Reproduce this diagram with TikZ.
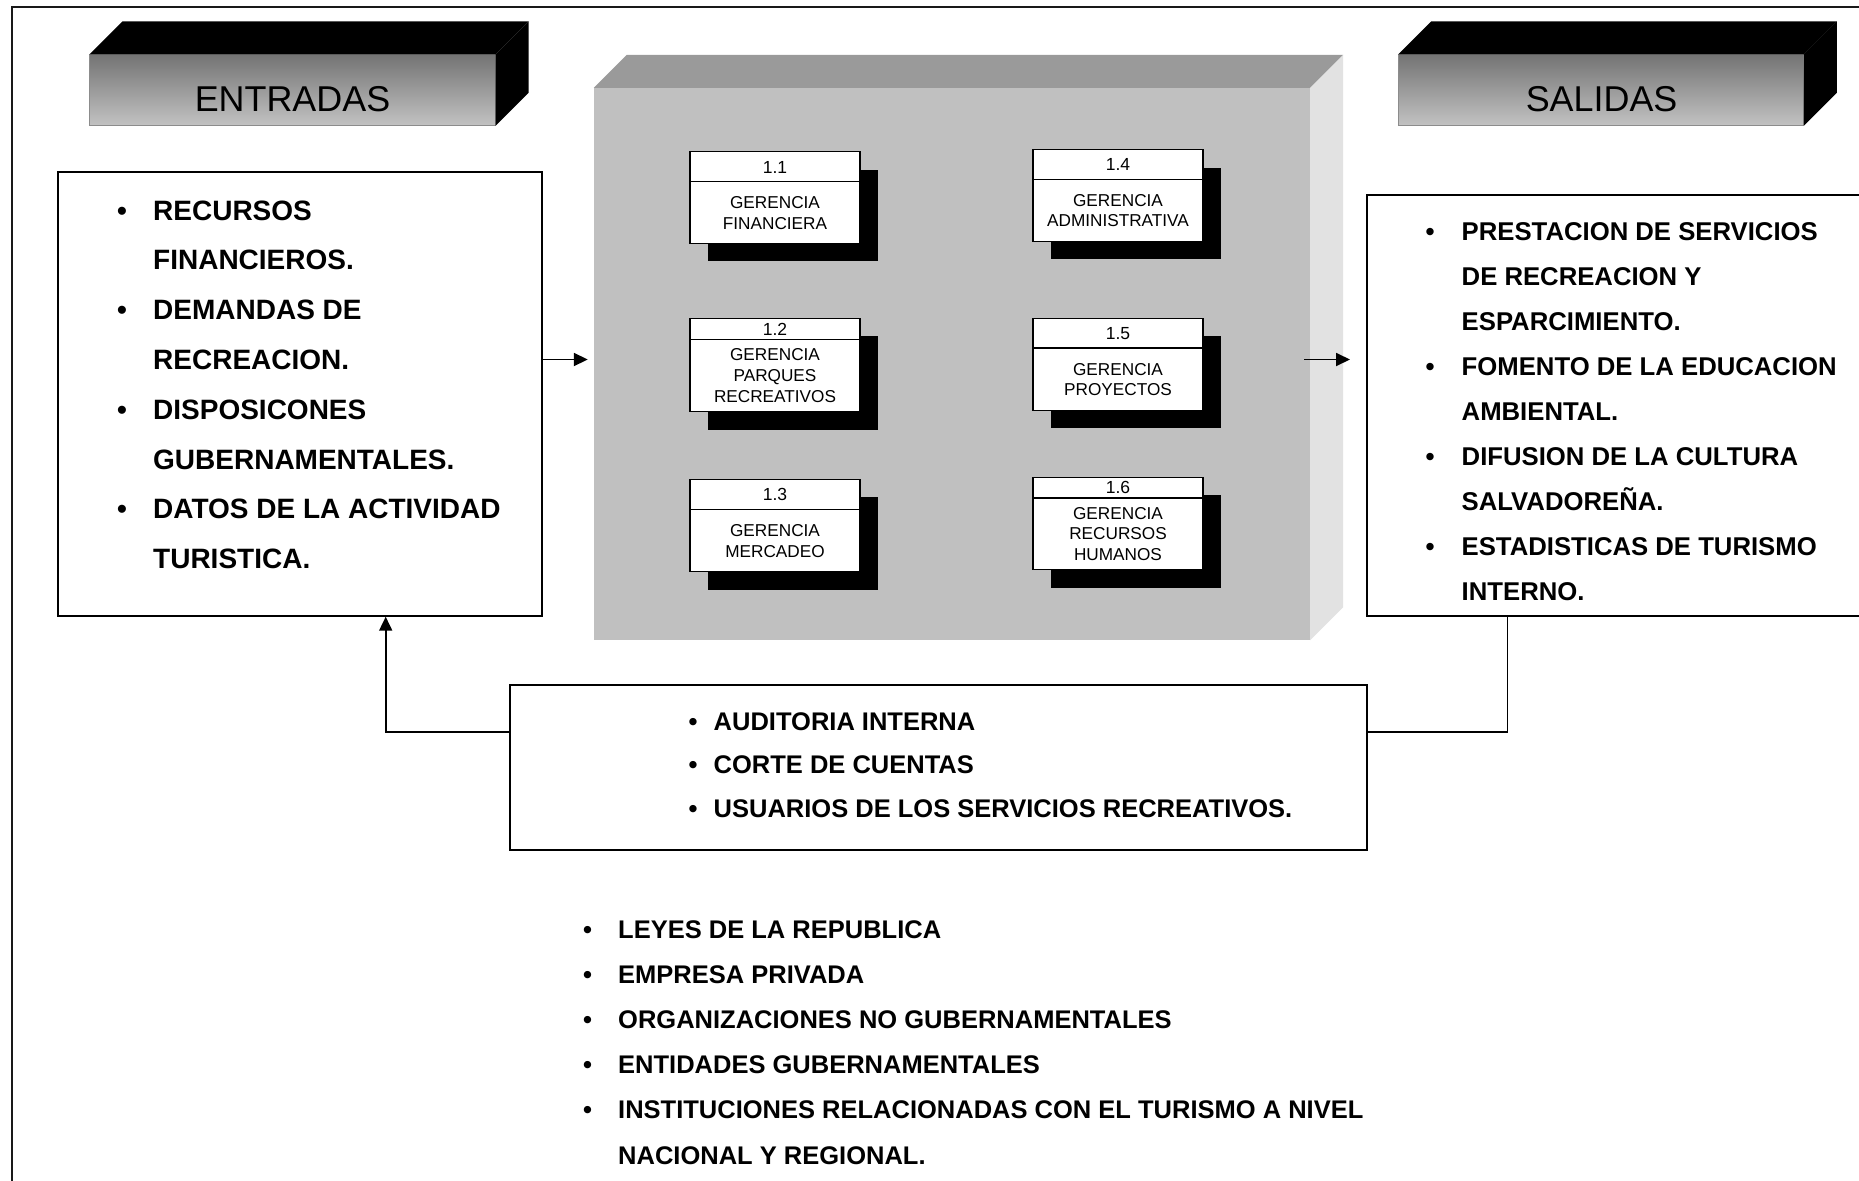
\documentclass[tikz,border=0pt]{standalone}
\usepackage{fontspec}
\setmainfont{Liberation Sans}
\usetikzlibrary{arrows.meta,calc,shadows}

\definecolor{headtop}{HTML}{747474}
\definecolor{headbot}{HTML}{C2C2C2}
\definecolor{headedge}{HTML}{8C8C8C}
\definecolor{procfront}{HTML}{C0C0C0}
\definecolor{proctop}{HTML}{9A9A9A}
\definecolor{procside}{HTML}{E2E2E2}

% bullet lists: one paragraph per printed line
\newlength\blgap
\newcommand\blitem[1]{\makebox[\blgap][l]{•}#1\par}
\newcommand\blcont[1]{\hspace*{\blgap}#1\par}
\newcommand\bulletblock[4]{\vtop{\hsize=1000pt\parindent=0pt\parskip=0pt\setlength\blgap{#1}\fontsize{#2}{#3}\selectfont\bfseries#4}}

\begin{document}
\begin{tikzpicture}[x=1pt,y=-1pt,
  frame/.style={line width=2pt, draw=black!90},
  headface/.style={draw=headedge, line width=1pt, top color=headtop, bottom color=headbot, inner sep=0},
  headtext/.style={font=\fontsize{35.9}{43}\selectfont, anchor=base, inner sep=0},
  listbox/.style={draw, line width=2pt, fill=white, inner sep=0},
  gbox/.style={draw, line width=1.2pt, fill=white, inner sep=0, minimum width=170pt,
    drop shadow={shadow xshift=18pt, shadow yshift=-18pt, opacity=1, fill=black}},
  gnum/.style={font=\fontsize{17.5}{21}\selectfont, inner sep=0},
  gtxt/.style={font=\fontsize{17.2}{20.6}\selectfont, align=center, inner sep=0},
  listtext/.style={anchor=base west, inner sep=0},
  flow/.style={line width=1.8pt, -{Triangle[length=14pt,width=13pt]}},
  link/.style={line width=1.8pt}]

\useasboundingbox (0,0) rectangle (1859,1180);
\clip (0,0) rectangle (1859,1180);
\fill[white] (0,0) rectangle (1859,1180);

% page frame (top and left rules)
\draw[frame] (11.9,1190) -- (11.9,7.5) -- (1870,7.5);

% ---- ENTRADAS header block
\node[headface, minimum width=405.2pt, minimum height=70.3pt] (inhead) at (292.4,90.15) {};
\fill[black] (inhead.north west) -- ++(33,-33) -- ($(inhead.north east)+(33,-33)$) -- (inhead.north east) -- cycle;
\fill[black] (inhead.north east) -- ++(33,-33) -- ($(inhead.south east)+(33,-33)$) -- (inhead.south east) -- cycle;
\node[headtext] (inheadtxt) at (292.5,111.7) {ENTRADAS};

% ---- SALIDAS header block
\node[headface, minimum width=404.8pt, minimum height=70.3pt] (outhead) at (1600.9,90.15) {};
\fill[black] (outhead.north west) -- ++(33,-33) -- ($(outhead.north east)+(33,-33)$) -- (outhead.north east) -- cycle;
\fill[black] (outhead.north east) -- ++(33,-33) -- ($(outhead.south east)+(33,-33)$) -- (outhead.south east) -- cycle;
\node[headtext] (outheadtxt) at (1601.6,111.7) {SALIDAS};

% ---- central process block
\node[fill=procfront, inner sep=0, minimum width=716pt, minimum height=552pt] (procbox) at (952,364) {};
\fill[proctop] (procbox.north west) -- ++(33,-33) -- ($(procbox.north east)+(33,-33)$) -- (procbox.north east) -- cycle;
\fill[procside] (procbox.north east) -- ++(33,-33) -- ($(procbox.south east)+(33,-33)$) -- (procbox.south east) -- cycle;

% management units
\node[gbox, minimum height=91.6pt] (g11) at (775,197.5) {};
\draw[line width=1.2pt] ($(g11.north west)+(0,30.6)$) -- ($(g11.north east)+(0,30.6)$);
\node[gnum] (g11n) at (775,167) {1.1};
\node[gtxt] (g11t) at (775,212.8) {GERENCIA\\FINANCIERA};

\node[gbox, minimum height=93.1pt] (g12) at (775,364.95) {};
\draw[line width=1.2pt] ($(g12.north west)+(0,21.4)$) -- ($(g12.north east)+(0,21.4)$);
\node[gnum] (g12n) at (775,329.1) {1.2};
\node[gtxt] (g12t) at (775,375.65) {GERENCIA\\PARQUES\\RECREATIVOS};

\node[gbox, minimum height=92.3pt] (g13) at (775,525.35) {};
\draw[line width=1.2pt] ($(g13.north west)+(0,30.9)$) -- ($(g13.north east)+(0,30.9)$);
\node[gnum] (g13n) at (775,494.65) {1.3};
\node[gtxt] (g13t) at (775,540.8) {GERENCIA\\MERCADEO};

\node[gbox, minimum height=91.5pt] (g14) at (1118,195.45) {};
\draw[line width=1.2pt] ($(g14.north west)+(0,30.1)$) -- ($(g14.north east)+(0,30.1)$);
\node[gnum] (g14n) at (1118,164.75) {1.4};
\node[gtxt] (g14t) at (1118,210.5) {GERENCIA\\ADMINISTRATIVA};

\node[gbox, minimum height=91.9pt] (g15) at (1118,364.35) {};
\draw[line width=1.2pt] ($(g15.north west)+(0,30.1)$) -- ($(g15.north east)+(0,30.1)$);
\node[gnum] (g15n) at (1118,333.45) {1.5};
\node[gtxt] (g15t) at (1118,379.4) {GERENCIA\\PROYECTOS};

\node[gbox, minimum height=92.3pt] (g16) at (1118,523.35) {};
\draw[line width=1.2pt] ($(g16.north west)+(0,21.4)$) -- ($(g16.north east)+(0,21.4)$);
\node[gnum] (g16n) at (1118,487.9) {1.6};
\node[gtxt] (g16t) at (1118,534.05) {GERENCIA\\RECURSOS\\HUMANOS};

% ---- inputs
\node[listbox, minimum width=484.2pt, minimum height=443.4pt] (inbox) at (300,394) {};
\node[listtext] (inlist) at (117,220) {\bulletblock{36pt}{28}{49.8}{%
  \blitem{RECURSOS}
  \blcont{FINANCIEROS.}
  \blitem{DEMANDAS DE}
  \blcont{RECREACION.}
  \blitem{DISPOSICONES}
  \blcont{GUBERNAMENTALES.}
  \blitem{DATOS DE LA ACTIVIDAD}
  \blcont{TURISTICA.}}};

% ---- outputs
\node[listbox, minimum width=513.3pt, minimum height=420.5pt] (outbox) at (1623.35,405.25) {};
\node[listtext] (outlist) at (1425.5,240) {\bulletblock{36pt}{25.7}{45}{%
  \blitem{PRESTACION DE SERVICIOS}
  \blcont{DE RECREACION Y}
  \blcont{ESPARCIMIENTO.}
  \blitem{FOMENTO DE LA EDUCACION}
  \blcont{AMBIENTAL.}
  \blitem{DIFUSION DE LA CULTURA}
  \blcont{SALVADOREÑA.}
  \blitem{ESTADISTICAS DE TURISMO}
  \blcont{INTERNO.}}};

% ---- feedback
\node[listbox, minimum width=856.5pt, minimum height=165pt] (fbbox) at (938.55,767.5) {};
\node[listtext] (fblist) at (688.5,730) {\bulletblock{25pt}{25.5}{43.5}{%
  \blitem{AUDITORIA INTERNA}
  \blitem{CORTE DE CUENTAS}
  \blitem{USUARIOS DE LOS SERVICIOS RECREATIVOS.}}};

% ---- environment
\node[listtext] (envlist) at (583,938.5) {\bulletblock{35pt}{25.5}{45.1}{%
  \blitem{LEYES DE LA REPUBLICA}
  \blitem{EMPRESA PRIVADA}
  \blitem{ORGANIZACIONES NO GUBERNAMENTALES}
  \blitem{ENTIDADES GUBERNAMENTALES}
  \blitem{INSTITUCIONES RELACIONADAS CON EL TURISMO A NIVEL}
  \blcont{NACIONAL Y REGIONAL.}}};

% ---- connectors
\coordinate (flowy) at (0,359.5);
\coordinate (fby) at (0,732);
\draw[flow] (inbox.east |- flowy) -- ($(procbox.west |- flowy)+(-6,0)$);
\draw[flow] ($(procbox.east |- flowy)+(-6,0)$) -- ($(outbox.west |- flowy)+(-15.7,0)$);
\draw[flow] (fbbox.west |- fby) -| ($(inbox.south)+(85.7,0)$);
\draw[link] ($(outbox.south)+(-115.85,0)$) |- (fbbox.east |- fby);

\end{tikzpicture}
\end{document}
